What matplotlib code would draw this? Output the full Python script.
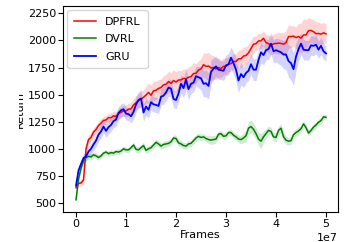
import numpy as np
import matplotlib
matplotlib.use("Agg")
import matplotlib.pyplot as plt
from matplotlib.transforms import Bbox, TransformedBbox

# x grid: frames 0 .. 5e7 in steps of 5e5
frames = np.linspace(0, 50_000_000, 101)

dpfrl = [640, 680, 685, 712, 1000, 1085, 1105, 1155, 1178, 1215,
         1236, 1262, 1266, 1288, 1286, 1305, 1298, 1325, 1336, 1350,
         1350, 1365, 1368, 1405, 1424, 1445, 1458, 1475, 1496, 1520,
         1494, 1535, 1540, 1557, 1566, 1590, 1596, 1620, 1604, 1630,
         1616, 1635, 1636, 1650, 1646, 1660, 1666, 1695, 1696, 1727,
         1736, 1776, 1760, 1764, 1746, 1750, 1736, 1750, 1740, 1760,
         1762, 1780, 1786, 1805, 1806, 1830, 1831, 1855, 1862, 1885,
         1926, 1965, 1970, 1995, 1996, 2020, 1980, 1970, 1950, 1970,
         1971, 1975, 1972, 1965, 1980, 2035, 2036, 2040, 2026, 2036,
         2021, 2050, 2051, 2090, 2092, 2080, 2062, 2064, 2058, 2070,
         2060]
dpfrl_sd = [25, 30, 30, 35, 50, 45, 40, 40, 40, 40,
            40, 40, 40, 40, 45, 45, 45, 50, 50, 50,
            55, 55, 60, 60, 65, 65, 70, 70, 80, 90,
            90, 90, 85, 80, 80, 85, 90, 95, 100, 100,
            95, 90, 85, 85, 90, 95, 100, 100, 90, 85,
            95, 110, 120, 125, 120, 110, 100, 90, 80, 80,
            75, 70, 70, 70, 75, 80, 85, 85, 80, 80,
            80, 75, 70, 70, 70, 70, 75, 80, 85, 90,
            95, 100, 100, 105, 110, 110, 100, 95, 100, 120,
            140, 150, 140, 120, 110, 110, 110, 105, 100, 95,
            90]

dvrl = [530, 720, 820, 890, 920, 930, 925, 945, 935, 920,
        935, 960, 970, 955, 965, 960, 975, 970, 980, 1000,
        990, 990, 1010, 1035, 995, 990, 1010, 1030, 985, 1000,
        1010, 1035, 1060, 1045, 1025, 1040, 1045, 1050, 1065, 1100,
        1095, 1055, 1045, 1030, 1025, 1045, 1050, 1075, 1100, 1115,
        1105, 1110, 1095, 1085, 1080, 1085, 1090, 1135, 1140, 1115,
        1120, 1150, 1150, 1125, 1110, 1090, 1085, 1100, 1120, 1190,
        1205, 1180, 1140, 1090, 1070, 1110, 1140, 1170, 1160, 1110,
        1105, 1170, 1190, 1110, 1080, 1070, 1075, 1130, 1150, 1165,
        1185, 1230, 1195, 1145, 1170, 1200, 1220, 1245, 1260, 1295,
        1290]
dvrl_sd = [15, 25, 30, 30, 30, 30, 30, 25, 25, 25,
           25, 25, 25, 25, 25, 25, 25, 25, 25, 25,
           25, 25, 25, 25, 30, 30, 30, 30, 30, 30,
           30, 30, 30, 30, 30, 30, 30, 30, 30, 30,
           30, 30, 30, 30, 30, 30, 30, 30, 30, 30,
           30, 30, 30, 35, 40, 40, 35, 30, 30, 30,
           30, 30, 30, 30, 30, 35, 40, 45, 55, 60,
           60, 60, 55, 60, 70, 55, 45, 40, 35, 40,
           45, 40, 40, 45, 40, 35, 35, 35, 35, 35,
           30, 30, 30, 30, 30, 30, 30, 30, 30, 25,
           25]

gru = [660, 800, 860, 915, 930, 975, 1000, 1040, 1075, 1130,
       1160, 1205, 1165, 1200, 1220, 1255, 1270, 1330, 1355, 1365,
       1325, 1320, 1300, 1340, 1410, 1450, 1465, 1335, 1390, 1360,
       1430, 1410, 1405, 1395, 1480, 1490, 1520, 1565, 1555, 1460,
       1450, 1510, 1600, 1560, 1640, 1550, 1600, 1610, 1670, 1660,
       1650, 1600, 1605, 1580, 1710, 1740, 1760, 1730, 1725, 1720,
       1770, 1780, 1840, 1790, 1730, 1630, 1690, 1660, 1700, 1720,
       1780, 1730, 1730, 1820, 1890, 1865, 1910, 1920, 1970, 1900,
       1910, 1900, 1890, 1870, 1870, 1810, 1790, 1735, 1850, 1920,
       1970, 1915, 1910, 1910, 1955, 1950, 1960, 1915, 1950, 1900,
       1880]
gru_sd = [25, 35, 40, 40, 40, 45, 50, 55, 60, 60,
          60, 60, 60, 60, 60, 60, 60, 60, 60, 60,
          60, 60, 60, 65, 70, 75, 80, 80, 80, 75,
          70, 70, 70, 70, 75, 80, 80, 80, 80, 80,
          80, 80, 85, 90, 95, 95, 90, 85, 90, 100,
          110, 120, 125, 120, 110, 100, 95, 90, 85, 90,
          95, 100, 100, 105, 110, 110, 100, 95, 90, 90,
          95, 100, 100, 100, 95, 90, 90, 95, 100, 105,
          110, 115, 120, 130, 140, 150, 155, 150, 130, 110,
          100, 95, 90, 90, 90, 90, 85, 80, 80, 75,
          70]

series = [
    ("DPFRL", dpfrl, dpfrl_sd, "red", 1.1),
    ("DVRL", dvrl, dvrl_sd, "green", 1.1),
    ("GRU", gru, gru_sd, "blue", 1.3),
]

plt.rcParams["font.family"] = ["DejaVu Sans"]
plt.rcParams["font.size"] = 8

fig = plt.figure(figsize=(3.47, 2.42), dpi=100)
ax = fig.add_axes([0.1816, 0.124, 0.7925, 0.851])

for name, mean, sd, col, lw in series:
    m = np.array(mean, dtype=float)
    s = np.array(sd, dtype=float)
    ax.fill_between(frames, m - s, m + s, color=col, alpha=0.17, linewidth=0)
for name, mean, sd, col, lw in series:
    ax.plot(frames, mean, color=col, linewidth=lw, label=name)

ax.set_xlim(-0.26e7, 5.24e7)
ax.set_ylim(417, 2317)
ax.set_yticks([500, 750, 1000, 1250, 1500, 1750, 2000, 2250])
ax.set_xticks([0, 1e7, 2e7, 3e7, 4e7, 5e7])
ax.tick_params(axis="y", labelsize=8, pad=1.5)
ax.tick_params(axis="x", labelsize=8, pad=1.5)
ax.set_xlabel("Frames", fontsize=8, labelpad=1)
ylab = ax.set_ylabel("Return", fontsize=8, labelpad=2)

leg = ax.legend(loc="upper left", fontsize=8, handlelength=2.0,
                borderaxespad=0.4, borderpad=0.6, labelspacing=0.65,
                frameon=True)

fig.canvas.draw()
clip = TransformedBbox(Bbox([[19 / 347, 0], [1, 1]]), fig.transFigure)
ylab.set_clip_box(clip)
ylab.set_clip_on(True)

fig.savefig("out.png", dpi=100)
